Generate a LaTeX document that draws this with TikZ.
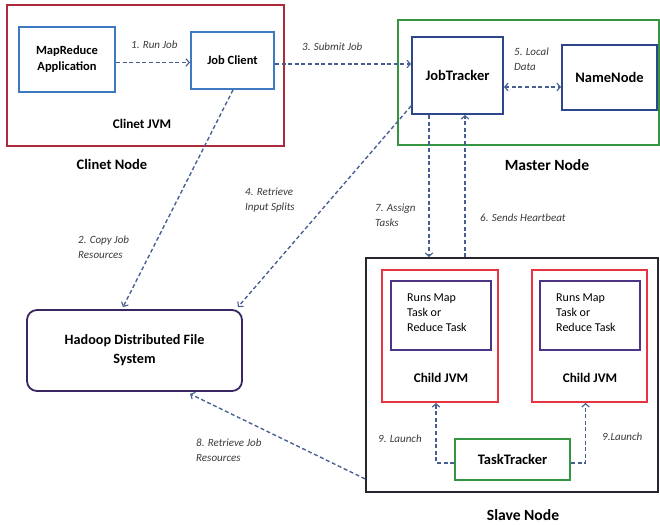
\documentclass[tikz,border=0pt]{standalone}
\usepackage{fontspec}
\setmainfont{Carlito}
\usetikzlibrary{arrows.meta,calc}
\definecolor{clientred}{RGB}{172,42,58}
\definecolor{childred}{RGB}{232,52,64}
\definecolor{appblue}{RGB}{62,122,192}
\definecolor{trackblue}{RGB}{45,70,140}
\definecolor{mastgreen}{RGB}{52,150,64}
\definecolor{hdfsline}{RGB}{58,38,98}
\definecolor{taskpurple}{RGB}{78,52,132}
\definecolor{slaveline}{RGB}{38,38,44}
\definecolor{flow}{RGB}{70,94,146}
\definecolor{labelgray}{RGB}{58,58,58}
\tikzset{
  box/.style={draw, line width=1.8pt, inner sep=0pt, text=black,
    font=\fontsize{12.5}{16}\selectfont\bfseries, align=center},
  frame/.style={draw, line width=1.8pt, inner sep=0pt},
  title/.style={font=\fontsize{14.5}{17}\selectfont\bfseries, text=black, inner sep=0pt},
  jvmtitle/.style={font=\fontsize{13.2}{15}\selectfont\bfseries, text=black, inner sep=0pt},
  flowlbl/.style={font=\fontsize{11}{15}\selectfont\itshape, text=labelgray,
    anchor=west, align=left, inner sep=0pt},
  flowline/.style={draw=flow, line width=1.35pt, dash pattern=on 4pt off 2.6pt,
    -{Straight Barb[length=3.5pt,width=7.5pt,line width=1.1pt]}},
  bothline/.style={flowline,
    {Straight Barb[length=3.5pt,width=7.5pt,line width=1.1pt]}-{Straight Barb[length=3.5pt,width=7.5pt,line width=1.1pt]}}
}
\begin{document}
\begin{tikzpicture}[x=1pt,y=-1pt]
\fill[white] (0,0) rectangle (660,524);
\useasboundingbox (0,0) rectangle (660,524);

% client side
\node[frame, draw=clientred, minimum width=277pt, minimum height=141pt] (client) at (145.5,75.5) {};
\node[box, draw=appblue, minimum width=96pt, minimum height=65pt] (mra) at (67,59.5) {MapReduce\\Application};
\node[box, draw=appblue, minimum width=83pt, minimum height=57pt] (jc) at (232.5,60.5) {Job Client};
\node[jvmtitle] (cjvm) at (142,124) {Clinet JVM};
\node[title] (cnode) at (112,164) {Clinet Node};

% master side
\node[frame, draw=mastgreen, minimum width=261pt, minimum height=125pt] (master) at (528.5,82.5) {};
\node[box, draw=trackblue, minimum width=91pt, minimum height=77pt, font=\fontsize{14.5}{16}\selectfont\bfseries] (jt) at (457.5,75.5) {JobTracker};
\node[box, draw=trackblue, minimum width=95pt, minimum height=65pt, font=\fontsize{14.5}{16}\selectfont\bfseries] (nn) at (609.5,77.5) {NameNode};
\node[title, font=\fontsize{15.6}{18}\selectfont\bfseries] (mnode) at (547,165) {Master Node};

% file system
\node[box, draw=hdfsline, rounded corners=10pt, minimum width=215pt, minimum height=81pt,
      font=\fontsize{14.2}{19}\selectfont\bfseries] (hdfs) at (134.5,350.5) {Hadoop Distributed File\\System};

% slave side
\node[frame, draw=slaveline, minimum width=292pt, minimum height=234pt] (slave) at (512,375) {};
\node[frame, draw=childred, minimum width=116pt, minimum height=132pt] (cj1) at (440,336) {};
\node[frame, draw=childred, minimum width=115pt, minimum height=132pt] (cj2) at (589.5,336) {};
\node[frame, draw=taskpurple, minimum width=100pt, minimum height=69pt] (in1) at (441,315.5) {};
\node[frame, draw=taskpurple, minimum width=100pt, minimum height=69pt] (in2) at (590,315.5) {};
\node[anchor=west, inner sep=0pt, align=left, font=\fontsize{12}{15}\selectfont] (t1) at (407,313) {Runs Map\\Task or\\Reduce Task};
\node[anchor=west, inner sep=0pt, align=left, font=\fontsize{12}{15}\selectfont] (t2) at (556,313) {Runs Map\\Task or\\Reduce Task};
\node[jvmtitle] (cl1) at (441,378) {Child JVM};
\node[jvmtitle] (cl2) at (590,378) {Child JVM};
\node[box, draw=mastgreen, minimum width=115pt, minimum height=41pt, font=\fontsize{14.5}{16}\selectfont\bfseries] (tt) at (512.5,459.5) {TaskTracker};
\node[title, font=\fontsize{15.6}{18}\selectfont\bfseries] (snode) at (523,515) {Slave Node};

% end points of the tracker links
\coordinate (assign) at ($(jt.south)+(-28.5,0)$);
\coordinate (beat) at ($(jt.south)+(7.5,0)$);

% connectors
\draw[flowline] ($(mra.east)+(0,3)$) -- ($(jc.west)+(0,2)$);
\draw[flowline] ($(jc.east)+(0,3.5)$) -- ($(jt.west)+(0,-11.5)$);
\draw[bothline] ($(jt.east)+(0,11.5)$) -- ($(nn.west)+(0,9.5)$);
\draw[flowline] ($(jc.south)+(0.5,0)$) -- ($(hdfs.north)+(-11.5,-2)$);
\draw[flowline] ($(jt.south west)+(0,-9)$) -- ($(hdfs.north east)+(-5,-2)$);
\draw[flowline] (assign) -- (assign |- slave.north);
\draw[flowline] (beat |- slave.north) -- (beat);
\draw[flowline] ($(slave.south west)+(0,-14)$) -- ($(hdfs.south)+(55.5,2)$);
\draw[flowline] ($(tt.west)+(0,3.5)$) -| ($(cj1.south)+(-4,0)$);
\draw[flowline] ($(tt.east)+(0,3.5)$) -| ($(cj2.south)+(-4,0)$);

% connector labels
\node[flowlbl] (l1) at (131,45) {1. Run Job};
\node[flowlbl] (l3) at (302,46.5) {3. Submit Job};
\node[flowlbl] (l5) at (514,59) {5. Local\\Data};
\node[flowlbl] (l2) at (78,247.5) {2. Copy Job\\Resources};
\node[flowlbl] (l4) at (245,200.5) {4. Retrieve\\Input Splits};
\node[flowlbl] (l7) at (375,215.5) {7. Assign\\Tasks};
\node[flowlbl] (l6) at (480,218) {6. Sends Heartbeat};
\node[flowlbl] (l8) at (196,450.5) {8. Retrieve Job\\Resources};
\node[flowlbl] (l9a) at (378,439) {9. Launch};
\node[flowlbl] (l9b) at (602,437) {9.Launch};
\end{tikzpicture}
\end{document}
